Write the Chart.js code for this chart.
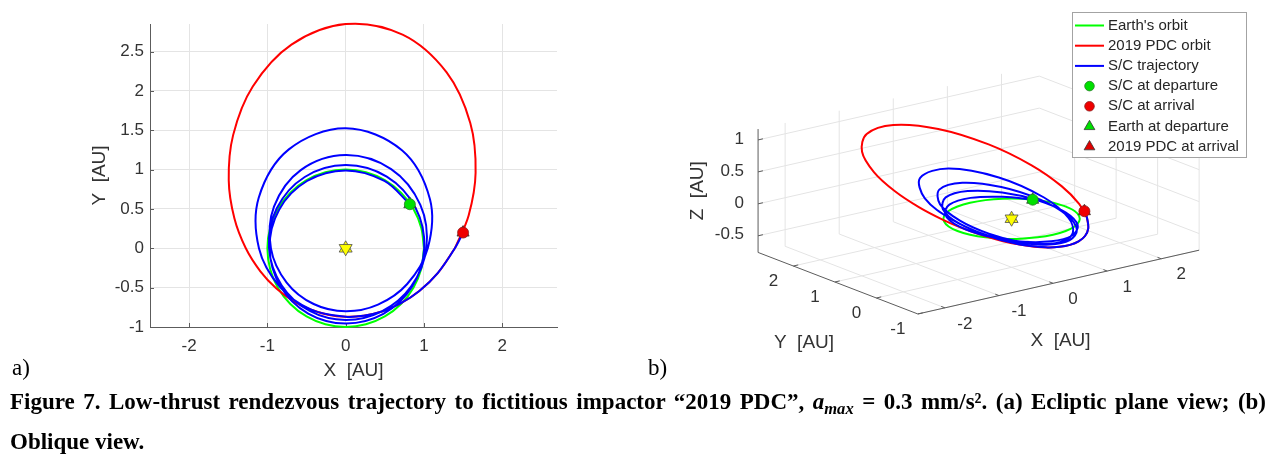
<!DOCTYPE html>
<html>
<head>
<meta charset="utf-8">
<script src="https://cdn.jsdelivr.net/npm/chart.js@4.4.1/dist/chart.umd.min.js"></script>
<style>
  html, body { margin: 0; padding: 0; background: #fff; }
  body { width: 1277px; height: 458px; position: relative; overflow: hidden; }
  canvas { position: absolute; top: 0; }
  #planView { left: 0; }
  #obliqueView { left: 640px; }
  .tag { position: absolute; top: 355px; font: 23px/26px "Liberation Serif", "Times New Roman", serif; color: #000; }
  .caption { position: absolute; left: 10px; font: bold 23px/26px "Liberation Serif", "Times New Roman", serif; color: #000; }
  .caption sub { font-size: 0.72em; vertical-align: baseline; position: relative; top: 0.3em; }
</style>
</head>
<body>
<canvas id="planView" width="640" height="390"></canvas>
<canvas id="obliqueView" width="637" height="390"></canvas>
<div class="tag" style="left:12px">a)</div>
<div class="tag" style="left:648px">b)</div>
<div class="caption" style="top:389px; width:1256px; text-align:justify; text-align-last:justify;">Figure 7. Low-thrust rendezvous trajectory to fictitious impactor “2019 PDC”, <i>a<sub>max</sub></i> = 0.3 mm/s². (a) Ecliptic plane view; (b)</div>
<div class="caption" style="top:429px">Oblique view.</div>

<script>
// positions in AU, heliocentric ecliptic frame: [x, y, z]
const earthOrbit = [
  [1, 0, 0], [0.966, 0.259, 0], [0.866, 0.5, 0], [0.707, 0.707, 0], [0.5, 0.866, 0],
  [0.259, 0.966, 0], [0, 1, 0], [-0.259, 0.966, 0], [-0.5, 0.866, 0], [-0.707, 0.707, 0],
  [-0.866, 0.5, 0], [-0.966, 0.259, 0], [-1, 0, 0], [-0.966, -0.259, 0], [-0.866, -0.5, 0],
  [-0.707, -0.707, 0], [-0.5, -0.866, 0], [-0.259, -0.966, 0], [0, -1, 0], [0.259, -0.966, 0],
  [0.5, -0.866, 0], [0.707, -0.707, 0], [0.866, -0.5, 0], [0.966, -0.259, 0], [1, 0, 0]
];

const pdcOrbit = [
  [1.395, 0, -0.254], [1.572, 0.421, -0.174], [1.660, 0.959, -0.048], [1.592, 1.592, 0.132],
  [1.290, 2.234, 0.357], [0.727, 2.714, 0.587], [0, 2.849, 0.755], [-0.693, 2.588, 0.812],
  [-1.187, 2.056, 0.761], [-1.438, 1.438, 0.643], [-1.494, 0.863, 0.501], [-1.422, 0.381, 0.360],
  [-1.276, 0, 0.232], [-1.090, -0.292, 0.121], [-0.885, -0.511, 0.026], [-0.670, -0.670, -0.056],
  [-0.449, -0.778, -0.124], [-0.226, -0.844, -0.183], [0, -0.870, -0.231], [0.230, -0.857, -0.269],
  [0.463, -0.803, -0.297], [0.701, -0.701, -0.314], [0.941, -0.543, -0.315], [1.176, -0.315, -0.297],
  [1.395, 0, -0.254]
];

const scTrajectory = [
  [0.82, 0.56, 0], [0.495, 0.857, 0.034], [0, 0.99, 0.079], [-0.494, 0.855, 0.103],
  [-0.850, 0.491, 0.100], [-0.972, 0, 0.066], [-0.834, -0.482, 0.010], [-0.479, -0.829, -0.056],
  [0, -0.955, -0.114], [0.481, -0.833, -0.146], [0.848, -0.489, -0.142], [1.004, 0, -0.096],
  [0.892, 0.515, -0.014], [0.525, 0.910, 0.083], [0, 1.058, 0.168], [-0.523, 0.906, 0.208],
  [-0.880, 0.508, 0.189], [-0.979, 0, 0.118], [-0.817, -0.472, 0.016], [-0.459, -0.796, -0.090],
  [0, -0.91, -0.175], [0.462, -0.801, -0.221], [0.837, -0.483, -0.215], [1.030, 0, -0.148],
  [0.954, 0.551, -0.022], [0.581, 1.006, 0.133], [0, 1.185, 0.267], [-0.574, 0.994, 0.317],
  [-0.916, 0.529, 0.269], [-0.955, 0, 0.154], [-0.754, -0.435, 0.020], [-0.409, -0.708, -0.103],
  [0, -0.80, -0.196], [0.413, -0.716, -0.248], [0.786, -0.454, -0.250], [1.049, 0, -0.184],
  [1.077, 0.622, -0.030], [0.719, 1.245, 0.197], [0, 1.525, 0.404], [-0.726, 1.257, 0.465],
  [-1.111, 0.642, 0.372], [-1.108, 0, 0.202], [-0.844, -0.487, 0.025], [-0.448, -0.776, -0.124],
  [0, -0.87, -0.231], [0.230, -0.857, -0.269], [0.463, -0.803, -0.297], [0.701, -0.701, -0.314],
  [0.941, -0.543, -0.315], [1.176, -0.315, -0.297], [1.395, 0, -0.254], [1.5, 0.2, -0.22]
];

const scDeparture = [0.82, 0.56, 0];
const scArrival = [1.5, 0.2, -0.22];
const sunPos = [0, 0, 0];

const legendLabels = ["Earth's orbit", "2019 PDC orbit", "S/C trajectory", "S/C at departure",
  "S/C at arrival", "Earth at departure", "2019 PDC at arrival"];

const xTicks = [-2, -1, 0, 1, 2];
const yTicksPlan = [-1, -0.5, 0, 0.5, 1, 1.5, 2, 2.5];
const yTicksBox = [-1, 0, 1, 2];
const zTicks = [-0.5, 0, 0.5, 1];

const X_LIM = [-2.5, 2.7];
const Y_LIM = [-1, 2.85];
const Z_LIM = [-0.76, 1.17];

// look & feel
const TEXT = '#333333';
const AXIS = '#5c5c5c';
const GRID = '#e4e4e4';
const SANS = '"Liberation Sans", Arial, Helvetica, sans-serif';
const GREEN = '#00ff00', RED = '#ff0000', BLUE = '#0000ff';

// oblique camera (azimuth / elevation, degrees)
const AZ = -37.5 * Math.PI / 180;
const EL = 17.5 * Math.PI / 180;
function project(p) {
  const [x, y, z] = p;
  return {
    x: Math.cos(AZ) * x + Math.sin(AZ) * y,
    y: Math.sin(EL) * (-Math.sin(AZ) * x + Math.cos(AZ) * y) + Math.cos(EL) * z
  };
}
const planXY = p => ({ x: p[0], y: p[1] });

function buildSeries(view) {
  const curve = (i, data, color, order) => ({
    label: legendLabels[i], data: data.map(view), showLine: true, borderColor: color,
    backgroundColor: color, borderWidth: 2, pointRadius: 0, tension: 0.35, clip: false, order
  });
  const marker = (i, pos, style, radius, fill, edge, order) => ({
    label: legendLabels[i], data: [view(pos)], showLine: false, pointStyle: style,
    pointRadius: radius, backgroundColor: fill, borderColor: edge, borderWidth: 0.8, clip: false, order
  });
  return [
    curve(0, earthOrbit, GREEN, 6),
    curve(1, pdcOrbit, RED, 5),
    curve(2, scTrajectory, BLUE, 4),
    marker(3, scDeparture, 'circle', 5.5, '#00e000', '#2a7f2a', 2),
    marker(4, scArrival, 'circle', 5.5, '#f00000', '#8a1a1a', 2),
    marker(5, scDeparture, 'triangle', 7, '#00e000', '#333333', 3),
    marker(6, scArrival, 'triangle', 7, '#e00000', '#333333', 3),
    {
      label: 'Sun', data: [view(sunPos), view(sunPos)], showLine: false, pointStyle: 'triangle',
      pointRotation: [0, 180], pointRadius: 7.5, backgroundColor: '#ffff00', borderColor: '#4d4d4d',
      borderWidth: 0.8, clip: false, order: 1
    }
  ];
}

// short inward tick marks on the plan view axes
const planTicks = {
  id: 'planTicks',
  beforeDatasetsDraw(chart) {
    const { ctx, chartArea: a, scales: { x, y } } = chart;
    ctx.save();
    ctx.strokeStyle = AXIS;
    ctx.lineWidth = 1;
    ctx.beginPath();
    x.ticks.forEach(t => {
      const px = Math.round(x.getPixelForValue(t.value)) + 0.5;
      ctx.moveTo(px, a.bottom); ctx.lineTo(px, a.bottom - 4);
    });
    y.ticks.forEach(t => {
      const py = Math.round(y.getPixelForValue(t.value)) + 0.5;
      ctx.moveTo(a.left, py); ctx.lineTo(a.left + 4, py);
    });
    ctx.stroke();
    ctx.restore();
  }
};

const tickFont = { family: SANS, size: 17 };
const titleFont = { family: SANS, size: 19 };

new Chart(document.getElementById('planView'), {
  type: 'scatter',
  data: { datasets: buildSeries(planXY) },
  options: {
    responsive: false,
    animation: false,
    events: [],
    layout: { padding: { left: 88, right: 83, top: 24, bottom: 8 } },
    elements: { line: { capBezierPoints: false } },
    plugins: { legend: { display: false }, tooltip: { enabled: false } },
    scales: {
      x: {
        type: 'linear', min: X_LIM[0], max: X_LIM[1],
        afterBuildTicks: s => { s.ticks = xTicks.map(v => ({ value: v })); },
        afterFit: s => { s.height = 55; },
        ticks: { callback: v => String(v), font: tickFont, color: TEXT, padding: 9, maxRotation: 0 },
        grid: { color: GRID, drawTicks: false },
        border: { color: AXIS, width: 1 },
        title: { display: true, text: 'X  [AU]', font: titleFont, color: TEXT, padding: 0 }
      },
      y: {
        type: 'linear', min: Y_LIM[0], max: Y_LIM[1],
        afterBuildTicks: s => { s.ticks = yTicksPlan.map(v => ({ value: v })); },
        afterFit: s => { s.width = 62; },
        ticks: { callback: v => String(v), font: tickFont, color: TEXT, padding: 6 },
        grid: { color: GRID, drawTicks: false },
        border: { color: AXIS, width: 1 },
        title: { display: true, text: 'Y  [AU]', font: titleFont, color: TEXT, padding: 0 }
      }
    }
  },
  plugins: [planTicks]
});

// ---- oblique view: the 3-D box is projected onto hidden linear scales ----
const OBL_W = 637, OBL_H = 390;
const OBL_PX = 70;              // pixels per AU on screen
const OBL_SUN = [373, 219.8];   // where the origin sits on the canvas

const obliqueBox = {
  id: 'obliqueBox',
  beforeDatasetsDraw(chart) {
    const { ctx, scales } = chart;
    const P = (x, y, z) => {
      const q = project([x, y, z]);
      return [scales.x.getPixelForValue(q.x), scales.y.getPixelForValue(q.y)];
    };
    const seg = (a, b) => {
      const p = P(...a), q = P(...b);
      ctx.moveTo(p[0], p[1]); ctx.lineTo(q[0], q[1]);
    };
    const [x0, x1] = X_LIM, [y0, y1] = Y_LIM, [z0, z1] = Z_LIM;
    ctx.save();

    // grid on the floor and the two back walls
    ctx.strokeStyle = GRID;
    ctx.lineWidth = 1;
    ctx.beginPath();
    xTicks.forEach(x => { seg([x, y0, z0], [x, y1, z0]); seg([x, y1, z0], [x, y1, z1]); });
    yTicksBox.forEach(y => { seg([x0, y, z0], [x1, y, z0]); seg([x1, y, z0], [x1, y, z1]); });
    zTicks.forEach(z => { seg([x0, y1, z], [x1, y1, z]); seg([x1, y0, z], [x1, y1, z]); });
    ctx.stroke();

    // axis lines and ticks
    ctx.strokeStyle = AXIS;
    ctx.beginPath();
    seg([x0, y1, z0], [x0, y1, z1]);
    seg([x0, y0, z0], [x0, y1, z0]);
    seg([x0, y0, z0], [x1, y0, z0]);
    xTicks.forEach(x => seg([x, y0, z0], [x, y0 + 0.09, z0]));
    yTicksBox.forEach(y => seg([x0, y, z0], [x0 + 0.09, y, z0]));
    zTicks.forEach(z => seg([x0, y1, z], [x0 + 0.09, y1, z]));
    ctx.stroke();

    // tick labels
    ctx.fillStyle = TEXT;
    ctx.font = '17px ' + SANS;
    ctx.textBaseline = 'middle';
    ctx.textAlign = 'center';
    xTicks.forEach(x => { const p = P(x, y0, z0); ctx.fillText(String(x), p[0] + 20, p[1] + 16); });
    yTicksBox.forEach(y => { const p = P(x0, y, z0); ctx.fillText(String(y), p[0] - 20, p[1] + 15.5); });
    ctx.textAlign = 'right';
    zTicks.forEach(z => { const p = P(x0, y1, z); ctx.fillText(String(z), p[0] - 14, p[1] - 1); });

    // axis titles
    ctx.font = '19px ' + SANS;
    ctx.textAlign = 'center';
    let p = P((x0 + x1) / 2, y0, z0);
    ctx.fillText('X  [AU]', p[0] + 2, p[1] + 59);
    p = P(x0, (y0 + y1) / 2, z0);
    ctx.fillText('Y  [AU]', p[0] - 34, p[1] + 60);
    p = P(x0, y1, (z0 + z1) / 2);
    ctx.translate(p[0] - 60, p[1]);
    ctx.rotate(-Math.PI / 2);
    ctx.fillText('Z  [AU]', 0, 0);
    ctx.restore();
  }
};

const obliqueLegend = {
  id: 'obliqueLegend',
  afterDraw(chart) {
    const { ctx } = chart;
    const left = 432, top = 12, w = 174, h = 145;
    ctx.save();
    ctx.fillStyle = '#ffffff';
    ctx.fillRect(left, top, w, h);
    ctx.strokeStyle = '#a3a3a3';
    ctx.lineWidth = 1;
    ctx.strokeRect(left + 0.5, top + 0.5, w, h);
    ctx.font = '15px ' + SANS;
    ctx.textBaseline = 'middle';
    ctx.textAlign = 'left';
    legendLabels.forEach((label, i) => {
      const ds = chart.data.datasets[i];
      const cy = top + 13.5 + i * 20.2;
      if (ds.showLine) {
        ctx.strokeStyle = ds.borderColor;
        ctx.lineWidth = 2;
        ctx.beginPath();
        ctx.moveTo(left + 3, cy); ctx.lineTo(left + 32, cy);
        ctx.stroke();
      } else {
        ctx.fillStyle = ds.backgroundColor;
        ctx.strokeStyle = ds.borderColor;
        ctx.lineWidth = ds.borderWidth;
        Chart.helpers.drawPoint(ctx, {
          pointStyle: ds.pointStyle,
          radius: ds.pointStyle === 'circle' ? 4.8 : 6.2,
          rotation: 0,
          borderWidth: ds.borderWidth
        }, left + 17.5, cy);
      }
      ctx.fillStyle = '#262626';
      ctx.fillText(label, left + 36, cy);
    });
    ctx.restore();
  }
};

new Chart(document.getElementById('obliqueView'), {
  type: 'scatter',
  data: { datasets: buildSeries(project) },
  options: {
    responsive: false,
    animation: false,
    events: [],
    layout: { padding: 0 },
    elements: { line: { capBezierPoints: false } },
    plugins: { legend: { display: false }, tooltip: { enabled: false } },
    scales: {
      x: { type: 'linear', display: false, min: -OBL_SUN[0] / OBL_PX, max: (OBL_W - OBL_SUN[0]) / OBL_PX },
      y: { type: 'linear', display: false, min: -(OBL_H - OBL_SUN[1]) / OBL_PX, max: OBL_SUN[1] / OBL_PX }
    }
  },
  plugins: [obliqueBox, obliqueLegend]
});
</script>
</body>
</html>
